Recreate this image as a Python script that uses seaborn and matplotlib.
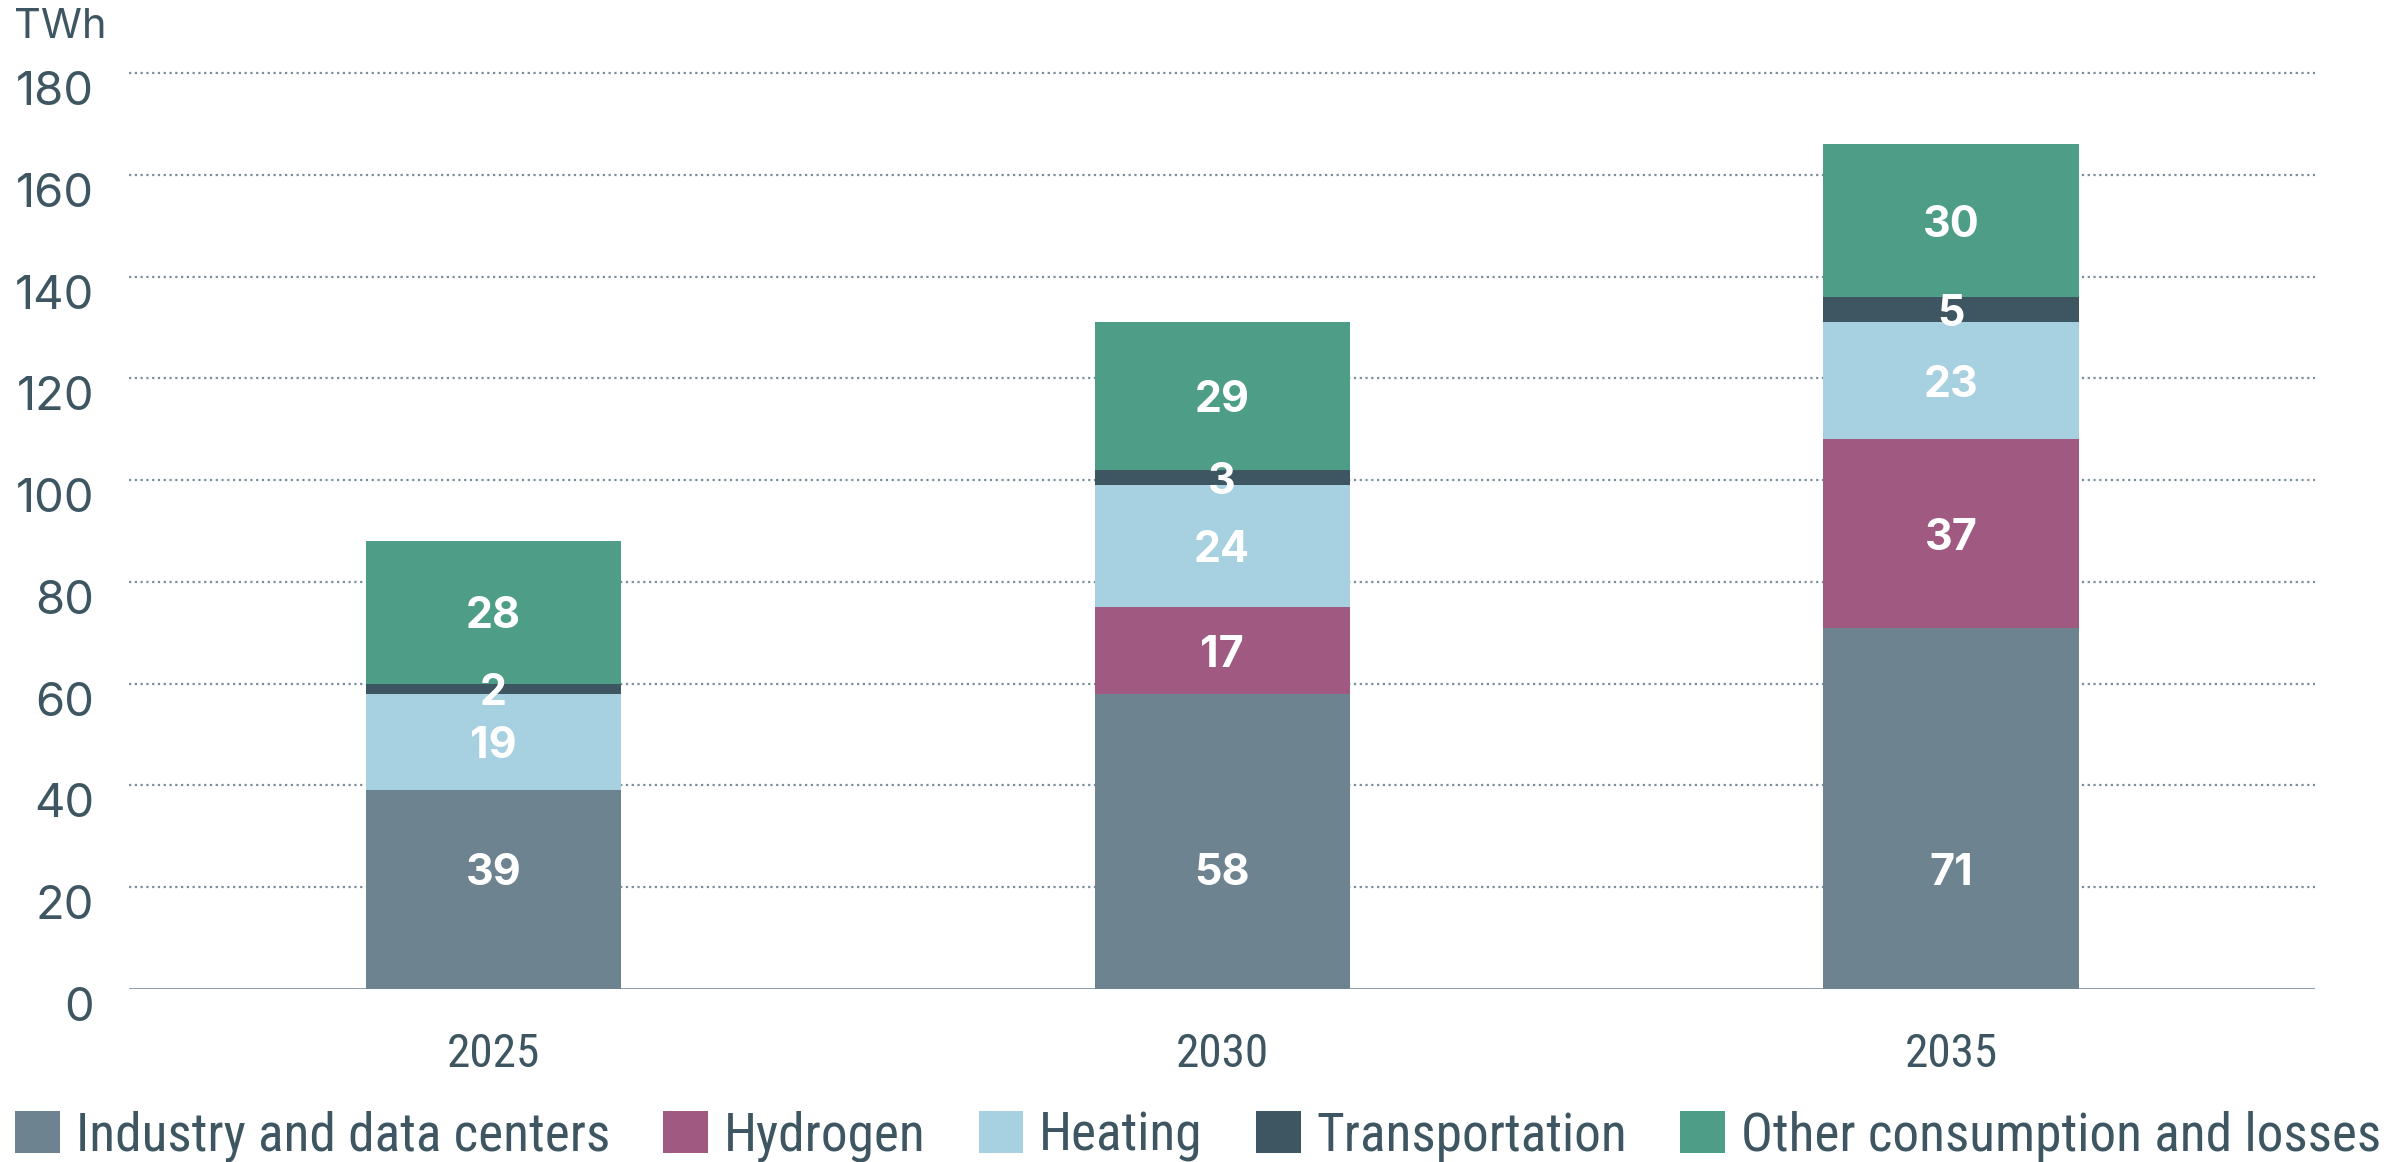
import matplotlib
matplotlib.use("Agg")
import matplotlib.pyplot as plt
import matplotlib.transforms as mtransforms
from matplotlib.patches import Patch
import seaborn as sns
import pandas as pd
import numpy as np

years = ["2025", "2030", "2035"]
categories = ["Industry and data centers", "Hydrogen", "Heating", "Transportation", "Other consumption and losses"]
industry = [39, 58, 71]
hydrogen = [0, 17, 37]
heating = [19, 24, 23]
transport = [2, 3, 5]
other = [28, 29, 30]
series = [industry, hydrogen, heating, transport, other]
colors = ["#6D8390", "#A05A82", "#A7D0E1", "#3D5661", "#4E9D86"]
yticks = [0, 20, 40, 60, 80, 100, 120, 140, 160, 180]

text_color = "#3E5661"
sns.set_theme(style="white")
plt.rcParams["font.family"] = ["Inter", "DejaVu Sans"]
narrow = ["Roboto Condensed", "Liberation Sans Narrow", "Roboto", "DejaVu Sans"]

fig = plt.figure(figsize=(23.87, 11.62), dpi=100)
ax = fig.add_axes([0.054, 0.149, 0.916, 0.788])

vals = np.array(series, dtype=float)
cum = np.cumsum(vals, axis=0)

# draw cumulative bars from top down so each layer overlays the previous
for i in range(len(categories) - 1, -1, -1):
    df = pd.DataFrame({"year": years, "value": cum[i]})
    sns.barplot(data=df, x="year", y="value", color=colors[i], width=0.35,
                saturation=1, ax=ax, zorder=3, linewidth=0)

# labels
for i in range(len(categories)):
    for j in range(len(years)):
        v = vals[i, j]
        if v <= 0:
            continue
        ypos = cum[i, j] - v / 2
        if i == 0:
            ypos = 23.5
        ax.text(j, ypos, f"{int(v)}", ha="center", va="center_baseline",
                color="white", fontsize=31, fontweight="bold", zorder=5)

ax.set_xlim(-0.5, 2.5)
ax.set_ylim(0, 180)
ax.set_yticks(yticks)
ax.set_yticklabels([str(t) for t in yticks])
ax.set_xlabel("")
ax.set_ylabel("")
for s in ax.spines.values():
    s.set_visible(False)

for t in yticks[1:]:
    ax.axhline(t, color="#7A8E9A", linestyle=(0, (1, 1.6)), linewidth=1.6, zorder=1, clip_on=False)
ax.axhline(0, color="#6D8390", linewidth=1.8, zorder=4)

ax.tick_params(axis="y", length=0, pad=25, labelsize=34, labelcolor=text_color)
ax.tick_params(axis="x", length=0, pad=31, labelcolor=text_color)
for lab in ax.get_xticklabels():
    lab.set_fontfamily(narrow)
    lab.set_fontsize(34)
offset = mtransforms.ScaledTranslation(0, -0.15, fig.dpi_scale_trans)
for lab in ax.get_yticklabels():
    lab.set_transform(lab.get_transform() + offset)

fig.text(0.006, 0.977, "TWh", fontsize=30, color=text_color, va="center", ha="left")

handles = [Patch(facecolor=c, edgecolor="none") for c in colors]
fig.legend(handles, categories, loc="center left", bbox_to_anchor=(0.004, 0.022),
           ncol=5, frameon=False, labelcolor=text_color,
           prop={"family": narrow, "size": 38.3},
           handlelength=0.84, handleheight=0.84, handletextpad=0.3,
           columnspacing=1.0, borderaxespad=0, borderpad=0.1)

fig.savefig("out.png", dpi=100, facecolor="white")
